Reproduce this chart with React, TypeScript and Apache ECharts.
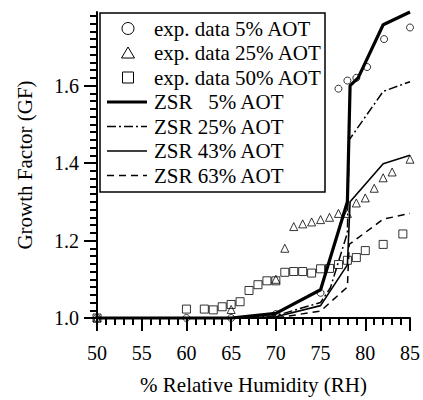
import React, { useEffect, useRef } from "react";
import * as echarts from "echarts";

// % Relative Humidity (x) / Growth Factor (y)
const exp5: number[][] = [
  [50, 1.0], [60, 1.0], [65, 1.0], [70, 1.01], [75, 1.065], [77, 1.592], [78, 1.613],
  [79, 1.62], [80.2, 1.648], [82.1, 1.72], [85, 1.75],
];
const exp25: number[][] = [
  [50, 1.0], [65, 1.022], [70, 1.1], [71, 1.18], [72, 1.236], [73, 1.243], [74, 1.248],
  [75, 1.254], [76, 1.26], [77, 1.27], [78, 1.27], [79, 1.297], [80, 1.31], [81, 1.335],
  [82, 1.362], [83, 1.377], [85, 1.41],
];
const exp50: number[][] = [
  [50, 1.0], [60, 1.023], [62, 1.023], [63, 1.021], [64, 1.029], [65, 1.035], [66, 1.042],
  [67, 1.071], [68, 1.086], [69, 1.096], [70, 1.096], [71, 1.118], [72, 1.12], [73, 1.12],
  [74, 1.116], [75, 1.127], [76, 1.128], [77, 1.138], [78, 1.149], [79, 1.156], [80, 1.174],
  [82, 1.19], [84.2, 1.217],
];
const zsr5: number[][] = [
  [50, 1.0], [60, 1.0], [65, 1.0], [70, 1.012], [75, 1.073], [78, 1.3], [78.3, 1.6],
  [79.2, 1.62], [82, 1.757], [85, 1.79],
];
const zsr25: number[][] = [
  [50, 1.0], [65, 1.0], [70, 1.006], [75, 1.04], [76.1, 1.078], [78, 1.22], [78.2, 1.46],
  [82, 1.585], [85, 1.61],
];
const zsr43: number[][] = [
  [50, 1.0], [65, 1.0], [70, 1.003], [75, 1.032], [78, 1.137], [78.3, 1.3], [82, 1.398],
  [85, 1.42],
];
const zsr63: number[][] = [
  [50, 1.0], [65, 1.0], [70, 1.0], [75, 1.018], [78, 1.08], [78.2, 1.19], [82, 1.255],
  [85, 1.27],
];

const xTickLabels = [50, 55, 60, 65, 70, 75, 80, 85];
const yMajorTicks = [1.0, 1.2, 1.4, 1.6];
const yMinorTicks: number[] = [];
for (let i = 0; i <= 39; i++) yMinorTicks.push(Math.round((1 + i * 0.02) * 100) / 100);

const names = [
  "exp. data 5% AOT",
  "exp. data 25% AOT",
  "exp. data 50% AOT",
  "ZSR\u00a0\u00a0\u00a05% AOT",
  "ZSR 25% AOT",
  "ZSR 43% AOT",
  "ZSR 63% AOT",
];

const FONT = "Liberation Serif, serif";
const DASHDOT = [9, 3, 2, 3];
const DASH = [7, 5];

export default function App() {
  const ref = useRef<HTMLDivElement>(null);
  useEffect(() => {
    const chart = echarts.init(ref.current!, null, { renderer: "svg" });
    const hollow = { color: "rgba(0,0,0,0)", borderColor: "#000", borderWidth: 1 };
    const lineBase = { type: "line", symbol: "none", clip: false, z: 2 };

    // legend drawn as graphic
    const LX = 100, LY = 13, LW = 225, LH = 179;
    const rowY = (i: number) => LY + 15.5 + i * 24.5;
    const symX = 128;
    const lineX1 = 107, lineX2 = 147;
    const textX = 154;
    const stroke = "#000";
    const legendEls: any[] = [
      { type: "rect", shape: { x: LX, y: LY, width: LW, height: LH }, style: { fill: "#fff", stroke, lineWidth: 1.5 }, z: 10 },
      { type: "circle", shape: { cx: symX, cy: rowY(0), r: 6 }, style: { fill: "none", stroke, lineWidth: 1 }, z: 11 },
      { type: "polygon", shape: { points: [[symX - 6.5, rowY(1) + 5], [symX + 6.5, rowY(1) + 5], [symX, rowY(1) - 6]] }, style: { fill: "none", stroke, lineWidth: 1 }, z: 11 },
      { type: "rect", shape: { x: symX - 5.5, y: rowY(2) - 5.5, width: 11, height: 11 }, style: { fill: "none", stroke, lineWidth: 1 }, z: 11 },
      { type: "line", shape: { x1: lineX1, y1: rowY(3), x2: lineX2, y2: rowY(3) }, style: { stroke, lineWidth: 3.2 }, z: 11 },
      { type: "line", shape: { x1: lineX1, y1: rowY(4), x2: lineX2, y2: rowY(4) }, style: { stroke, lineWidth: 1.5, lineDash: DASHDOT }, z: 11 },
      { type: "line", shape: { x1: lineX1, y1: rowY(5), x2: lineX2, y2: rowY(5) }, style: { stroke, lineWidth: 1.6 }, z: 11 },
      { type: "line", shape: { x1: lineX1, y1: rowY(6), x2: lineX2, y2: rowY(6) }, style: { stroke, lineWidth: 1.5, lineDash: DASH }, z: 11 },
    ];
    names.forEach((n, i) => {
      legendEls.push({
        type: "text", x: textX, y: rowY(i), z: 11,
        style: { text: n, font: `21px ${FONT}`, fill: "#000", verticalAlign: "middle", align: "left" },
      });
    });

    chart.setOption({
      animation: false,
      backgroundColor: "#fff",
      textStyle: { fontFamily: FONT, color: "#000" },
      grid: { left: 97, right: 13, top: 12, bottom: 76, containLabel: false },
      graphic: legendEls,
      xAxis: [
        {
          type: "value", min: 50, max: 85, interval: 5,
          name: "% Relative Humidity (RH)", nameLocation: "middle", nameGap: 56,
          nameTextStyle: { fontFamily: FONT, fontSize: 21, color: "#000" },
          axisLine: { lineStyle: { color: "#000", width: 2 } },
          axisTick: { length: 13, customValues: xTickLabels, lineStyle: { color: "#000", width: 2 } },
          axisLabel: { fontFamily: FONT, fontSize: 20, color: "#000", margin: 25, customValues: xTickLabels },
          splitLine: { show: false },
        },
        {
          type: "value", min: 50, max: 85, interval: 1, position: "bottom",
          axisLine: { show: false },
          axisTick: { length: 7, lineStyle: { color: "#000", width: 2 } },
          axisLabel: { show: false },
          splitLine: { show: false },
        },
      ],
      yAxis: [
        {
          type: "value", min: 1.0, max: 1.79,
          name: "Growth Factor (GF)", nameLocation: "middle", nameGap: 62,
          nameTextStyle: { fontFamily: FONT, fontSize: 21, color: "#000" },
          axisLine: { show: true, lineStyle: { color: "#000", width: 2 } },
          axisTick: { show: true, length: 13, customValues: yMajorTicks, lineStyle: { color: "#000", width: 2 } },
          axisLabel: {
            fontFamily: FONT, fontSize: 20, color: "#000", margin: 18,
            customValues: yMajorTicks, formatter: (v: number) => v.toFixed(1),
          },
          splitLine: { show: false },
        },
        {
          type: "value", min: 1.0, max: 1.79, position: "left",
          axisLine: { show: false },
          axisTick: { show: true, length: 7, customValues: yMinorTicks, lineStyle: { color: "#000", width: 2 } },
          axisLabel: { show: false },
          splitLine: { show: false },
        },
      ],
      series: [
        { ...lineBase, name: names[3], data: zsr5, lineStyle: { color: "#000", width: 3.2 } },
        { ...lineBase, name: names[4], data: zsr25, lineStyle: { color: "#000", width: 1.5, type: DASHDOT } },
        { ...lineBase, name: names[5], data: zsr43, lineStyle: { color: "#000", width: 1.6 } },
        { ...lineBase, name: names[6], data: zsr63, lineStyle: { color: "#000", width: 1.5, type: DASH } },
        { type: "scatter", name: names[0], data: exp5, symbol: "circle", symbolSize: 7, itemStyle: hollow, z: 3 },
        { type: "scatter", name: names[1], data: exp25, symbol: "triangle", symbolSize: 8, itemStyle: hollow, z: 3 },
        { type: "scatter", name: names[2], data: exp50, symbol: "rect", symbolSize: 8, itemStyle: hollow, z: 3 },
      ],
    });
    return () => chart.dispose();
  }, []);
  return <div ref={ref} style={{ position: "fixed", left: 0, top: 0, width: 423, height: 400 }} />;
}
